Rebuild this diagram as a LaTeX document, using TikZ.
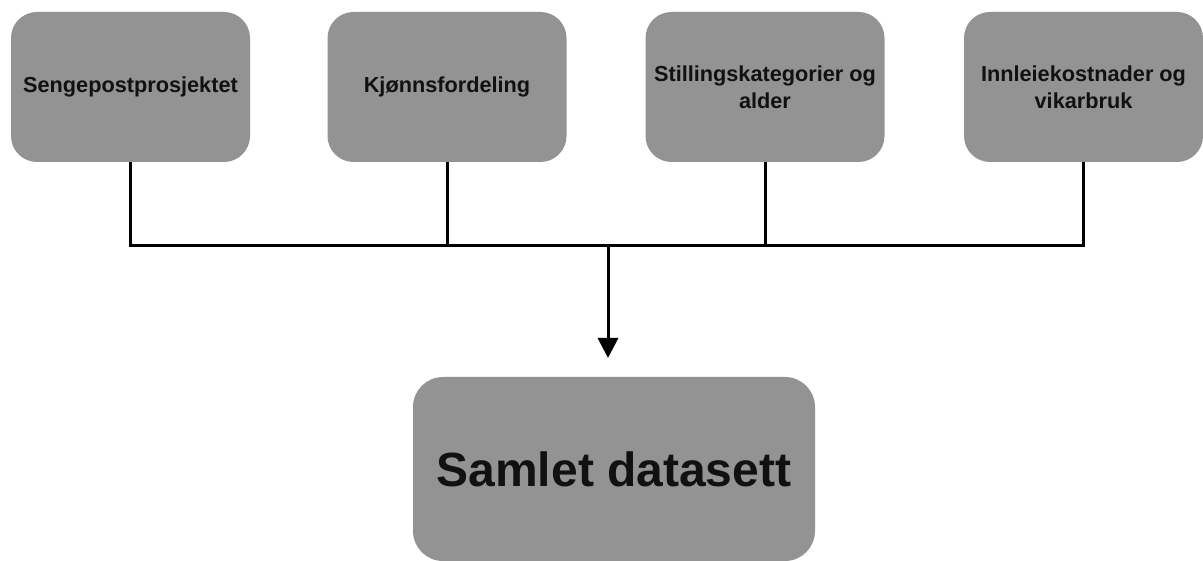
\documentclass[tikz,border=0pt]{standalone}
\usepackage{fontspec}
\setmainfont{Liberation Sans}
\usetikzlibrary{arrows.meta,calc}
\definecolor{boxgray}{HTML}{939393}
\definecolor{txt}{HTML}{111111}
\tikzset{
  srcbox/.style={fill=boxgray, draw=none, rounded corners=26pt, minimum width=239pt, minimum height=150pt, inner sep=0pt, align=center, text=txt, font=\bfseries\fontsize{21.7}{27}\selectfont},
  mainbox/.style={fill=boxgray, draw=none, rounded corners=30pt, minimum width=402pt, minimum height=184pt, inner sep=0pt, align=center, text=txt, font=\bfseries\fontsize{48}{58}\selectfont},
  conn/.style={line width=3pt, draw=black},
}
\begin{document}
\begin{tikzpicture}[x=1pt,y=1pt]
\useasboundingbox (0,0) rectangle (1203,-561);
\node[srcbox] (s1) at (130.5,-87) {Sengepostprosjektet};
\node[srcbox] (s2) at (447,-87) {Kjønnsfordeling};
\node[srcbox] (s3) at (765,-87) {Stillingskategorier og\\alder};
\node[srcbox] (s4) at (1083.5,-87) {Innleiekostnader og\\vikarbruk};
\node[mainbox] (sam) at (614,-469) {Samlet datasett};
\coordinate (bus) at (608,-246);
\coordinate (tip) at (608,-358);
\draw[conn, line join=miter] (s1.south) -- (s1.south |- bus) -- (s4.south |- bus) -- (s4.south);
\draw[conn] (s2.south) -- (s2.south |- bus);
\draw[conn] (s3.south) -- (s3.south |- bus);
\draw[conn, -{Triangle[length=20pt,width=20pt]}] (bus) -- (tip);
\end{tikzpicture}
\end{document}
